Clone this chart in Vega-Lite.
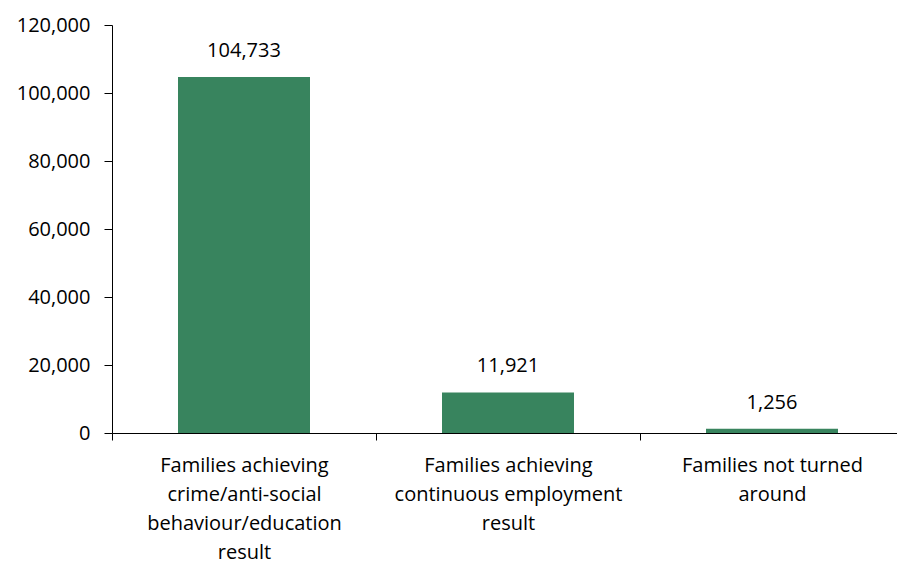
{
  "$schema": "https://vega.github.io/schema/vega-lite/v6.json",
  "autosize": "none",
  "padding": {"left": 112, "top": 25, "right": 0, "bottom": 130},
  "width": 792,
  "height": 408,
  "background": "white",
  "config": {"view": {"stroke": null}, "font": "Open Sans"},
  "data": {"values": [
    {"category": "Families achieving crime/anti-social behaviour/education result", "value": 104733},
    {"category": "Families achieving continuous employment result", "value": 11921},
    {"category": "Families not turned around", "value": 1256}
  ]},
  "encoding": {
    "x": {"field": "category", "type": "nominal", "sort": null,
      "scale": {"paddingInner": 0, "paddingOuter": 0},
      "axis": {"title": null, "labelAngle": 0, "tickBand": "extent", "domainColor": "black", "tickColor": "black", "tickSize": 7, "labelFont": "Open Sans", "labelFontSize": 20, "labelColor": "black", "labelPadding": 15, "labelLineHeight": 29, "labelBaseline": "top", "labelLimit": 0,
        "labelExpr": "datum.label == 'Families achieving crime/anti-social behaviour/education result' ? ['Families achieving','crime/anti-social','behaviour/education','result'] : datum.label == 'Families achieving continuous employment result' ? ['Families achieving','continuous employment','result'] : datum.label == 'Families not turned around' ? ['Families not turned','around'] : ''"}},
    "y": {"field": "value", "type": "quantitative",
      "scale": {"domain": [0, 120000], "nice": false},
      "axis": {"title": null, "values": [0,20000,40000,60000,80000,100000,120000], "format": ",d", "grid": false, "domainColor": "black", "tickColor": "black", "tickSize": 8, "labelPadding": 14, "labelFont": "Open Sans", "labelFontSize": 20, "labelColor": "black"}}
  },
  "layer": [
    {"mark": {"type": "bar", "color": "#38845E", "width": {"band": 0.5}}},
    {"mark": {"type": "text", "dy": -20, "baseline": "alphabetic", "font": "Open Sans", "fontSize": 20, "color": "black"},
     "encoding": {"text": {"field": "value", "type": "quantitative", "format": ",d"}}}
  ]
}
